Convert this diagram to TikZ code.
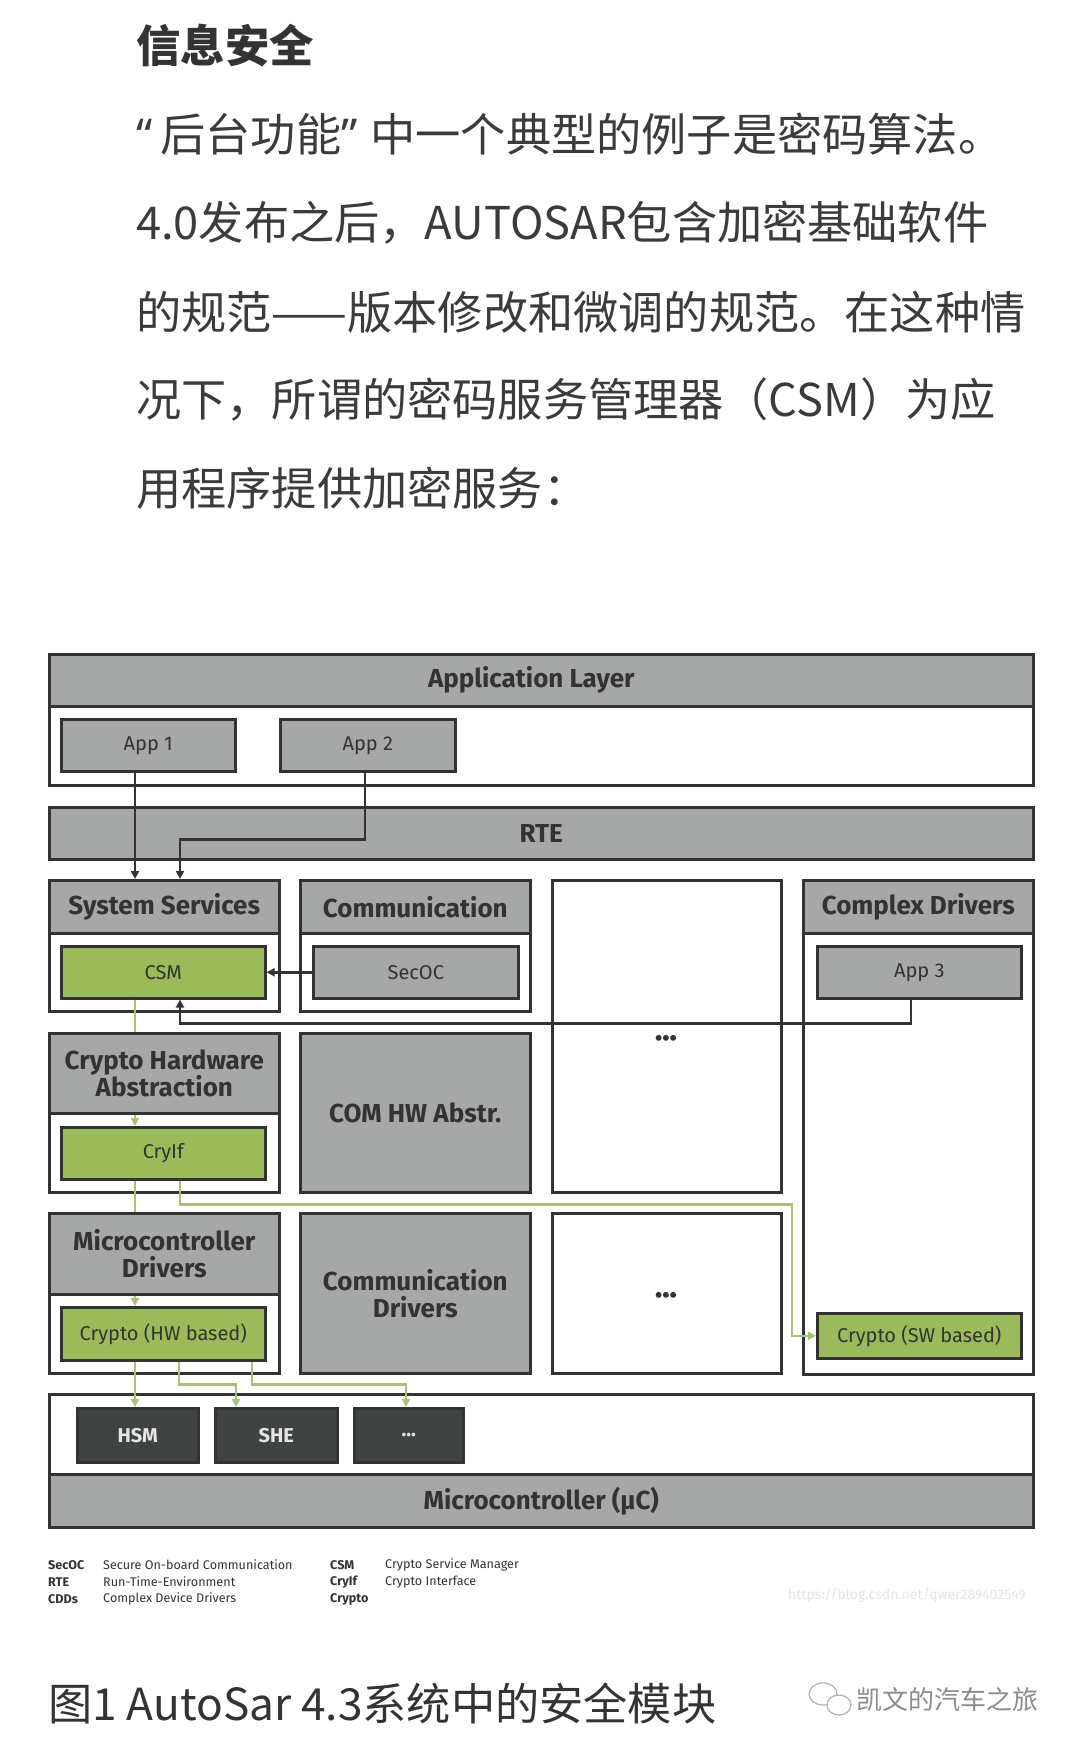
\documentclass[tikz,border=0pt]{standalone}
\usepackage{fontspec}
\setmainfont{Fira Sans}
\newfontfamily\cjk{Noto Sans CJK SC}
\newfontfamily\quotefont{Noto Sans}
\usetikzlibrary{arrows.meta,positioning}
\definecolor{LayerClr}{HTML}{A6A8A7}
\definecolor{CryClr}{HTML}{9BBA5A}
\definecolor{CryLineClr}{HTML}{A8C176}
\definecolor{HwClr}{HTML}{3F4342}
\definecolor{InkClr}{HTML}{333333}
\definecolor{TextClr}{HTML}{3B3B3B}

\tikzset{
  frame/.style={draw=InkClr,line width=2.6pt,fill=white,anchor=north west,inner sep=0pt},
  head/.style={frame,fill=LayerClr,text=InkClr,align=center,
    font=\bfseries\fontsize{26}{27}\selectfont},
  comp/.style={frame,fill=LayerClr,text=InkClr,font=\fontsize{20}{24}\selectfont},
  crybox/.style={comp,fill=CryClr},
  hwbox/.style={frame,fill=HwClr,text=white!90!black,font=\bfseries\fontsize{20}{24}\selectfont},
  moredots/.style={text=InkClr,font=\bfseries\fontsize{21}{21}\selectfont},
  flow/.style={draw=InkClr,line width=2.4pt,-{Triangle[length=8pt,width=8pt]}},
  cryline/.style={draw=CryLineClr,line width=2.6pt},
  cryflow/.style={cryline,-{Triangle[length=8pt,width=8pt]}},
  para/.style={anchor=west,inner sep=0pt,text=TextClr,font=\cjk\fontsize{45.2}{50}\selectfont},
  abbr/.style={anchor=west,inner sep=0pt,text=InkClr,font=\bfseries\fontsize{12.6}{15}\selectfont},
  expl/.style={anchor=west,inner sep=0pt,text=InkClr,font=\fontsize{12.6}{15}\selectfont},
}

\begin{document}
\begin{tikzpicture}[x=1pt,y=-1pt]
\fill[white] (0,0) rectangle (1080,1749);
\useasboundingbox (0,0) rectangle (1080,1749);

% text above the figure
\node[para,font=\cjk\bfseries\fontsize{44.4}{50}\selectfont,text=InkClr] (title) at (136,46) {信息安全};
\node[para] (par1) at (136,134) {{\quotefont “}\hspace{8pt}后台功能{\quotefont ”}\hspace{13pt}中一个典型的例子是密码算法。};
\node[para] (par2) at (136,223) {4.0发布之后，AUTOSAR包含加密基础软件};
\node[para] (par3) at (136,312) {的规范——版本修改和微调的规范。在这种情};
\node[para] (par4) at (136,400) {况下，所谓的密码服务管理器（CSM）为应};
\node[para] (par5) at (136,488) {用程序提供加密服务：};

% application layer
\node[frame,minimum width=984,minimum height=131] (app) at (48,653) {};
\node[head,minimum width=984,minimum height=52] (apphead) at (48,653) {\hspace*{-20pt}Application Layer};
\node[comp,minimum width=174,minimum height=52] (app1) at (60,718) {App 1};
\node[comp,minimum width=175,minimum height=52] (app2) at (279,718) {App 2};

% rte
\node[head,minimum width=984,minimum height=52] (rte) at (48,806) {RTE};

% services layer
\node[frame,minimum width=230,minimum height=131] (sys) at (48,879) {};
\node[head,minimum width=230,minimum height=53] (syshead) at (48,879) {System Services};
\node[crybox,minimum width=204,minimum height=52] (csm) at (60,945) {CSM};

\node[frame,minimum width=230,minimum height=131] (com) at (299,879) {};
\node[head,minimum width=230,minimum height=53] (comhead) at (299,879) {Communication};
\node[comp,minimum width=205,minimum height=52] (secoc) at (312,945) {SecOC};

\node[frame,minimum width=229,minimum height=312] (misc1) at (551,879) {};
\node[moredots] (dots1) at (666,1040) {•••};

\node[frame,minimum width=230,minimum height=494] (cdd) at (802,879) {};
\node[head,minimum width=230,minimum height=53] (cddhead) at (802,879) {Complex Drivers};
\node[comp,minimum width=204,minimum height=52] (app3) at (816,945) {App 3};
\node[crybox,minimum width=204,minimum height=45] (crysw) at (816,1312) {Crypto (SW based)};

% abstraction layer
\node[frame,minimum width=230,minimum height=159] (cha) at (48,1032) {};
\node[head,minimum width=230,minimum height=80] (chahead) at (48,1032) {Crypto Hardware\\Abstraction};
\node[crybox,minimum width=204,minimum height=52] (cryif) at (60,1126) {CryIf};

\node[head,minimum width=230,minimum height=159] (comhw) at (299,1032) {COM HW Abstr.};

% driver layer
\node[frame,minimum width=230,minimum height=160] (mcd) at (48,1212) {};
\node[head,minimum width=230,minimum height=81] (mcdhead) at (48,1212) {Microcontroller\\Drivers};
\node[crybox,minimum width=204,minimum height=53] (cryhw) at (60,1306) {Crypto (HW based)};

\node[head,minimum width=230,minimum height=160] (comdrv) at (299,1212) {Communication\\Drivers};

\node[frame,minimum width=229,minimum height=160] (misc2) at (551,1212) {};
\node[moredots] (dots2) at (666,1297) {•••};

% microcontroller
\node[frame,minimum width=984,minimum height=133] (mcu) at (48,1393) {};
\node[head,minimum width=984,minimum height=53] (mcuhead) at (48,1473) {Microcontroller (µC)};
\node[hwbox,minimum width=121,minimum height=54] (hsm) at (76,1407) {HSM};
\node[hwbox,minimum width=122,minimum height=54] (she) at (214,1407) {SHE};
\node[hwbox,minimum width=109,minimum height=54] (hwdots) at (353,1407) {...};

% calls
\draw[flow] ([xshift=75pt]app1.south west) -- ([xshift=87pt]sys.north west);
\draw[flow] ([xshift=86pt]app2.south west) -- ++(0,67) -| ([xshift=132pt]sys.north west);
\draw[flow] (secoc.west) -- (csm.east);
\draw[flow] ([xshift=95pt]app3.south west) -- ++(0,24) -| ([xshift=120pt]csm.south west);

% crypto stack
\draw[cryline] ([xshift=75pt]csm.south west) -- ([xshift=87pt]chahead.north west);
\draw[cryflow] ([xshift=87pt]chahead.south west) -- ([xshift=75pt]cryif.north west);
\draw[cryline] ([xshift=75pt]cryif.south west) -- ([xshift=87pt]mcdhead.north west);
\draw[cryflow] ([xshift=87pt]mcdhead.south west) -- ([xshift=75pt]cryhw.north west);
\draw[cryflow] ([xshift=120pt]cryif.south west) -- ++(0,24) -| ([xshift=-24pt]crysw.west) -- (crysw.west);
\draw[cryflow] ([xshift=75pt]cryhw.south west) -- ([xshift=59pt]hsm.north west);
\draw[cryflow] ([xshift=119pt]cryhw.south west) -- ++(0,23) -| ([xshift=22pt]she.north west);
\draw[cryflow] ([xshift=192pt]cryhw.south west) -- ++(0,23) -| ([xshift=53pt]hwdots.north west);

% legend
\node[abbr] (lg1) at (48,1565) {SecOC};
\node[abbr] (lg2) at (48,1582) {RTE};
\node[abbr] (lg3) at (48,1599) {CDDs};
\node[expl] (lx1) at (103,1565) {Secure On-board Communication};
\node[expl] (lx2) at (103,1582) {Run-Time-Environment};
\node[expl] (lx3) at (103,1599) {Complex Device Drivers};
\node[abbr] (lg4) at (330,1565) {CSM};
\node[abbr] (lg5) at (330,1582) {CryIf};
\node[abbr] (lg6) at (330,1599) {Crypto};
\node[expl] (lx4) at (385,1565) {Crypto Service Manager};
\node[expl] (lx5) at (385,1582) {Crypto Interface};
\node[anchor=west,inner sep=0pt,text=black!10,font=\fontsize{14}{15}\selectfont] (mark) at (788,1595) {https://blog.csdn.net/qwer289402549};

% caption
\node[para,text=InkClr,font=\cjk\fontsize{44.2}{48}\selectfont] (caption) at (48,1703) {图1 AutoSar 4.3系统中的安全模块};
\draw[black!30,line width=1.2pt,fill=white] (823,1694) ellipse (14 and 11);
\draw[black!30,line width=1.2pt,fill=white] (839,1705) ellipse (12 and 10);
\node[anchor=west,inner sep=0pt,text=black!45,font=\cjk\fontsize{26}{28}\selectfont] (account) at (856,1700) {凯文的汽车之旅};
\end{tikzpicture}
\end{document}
